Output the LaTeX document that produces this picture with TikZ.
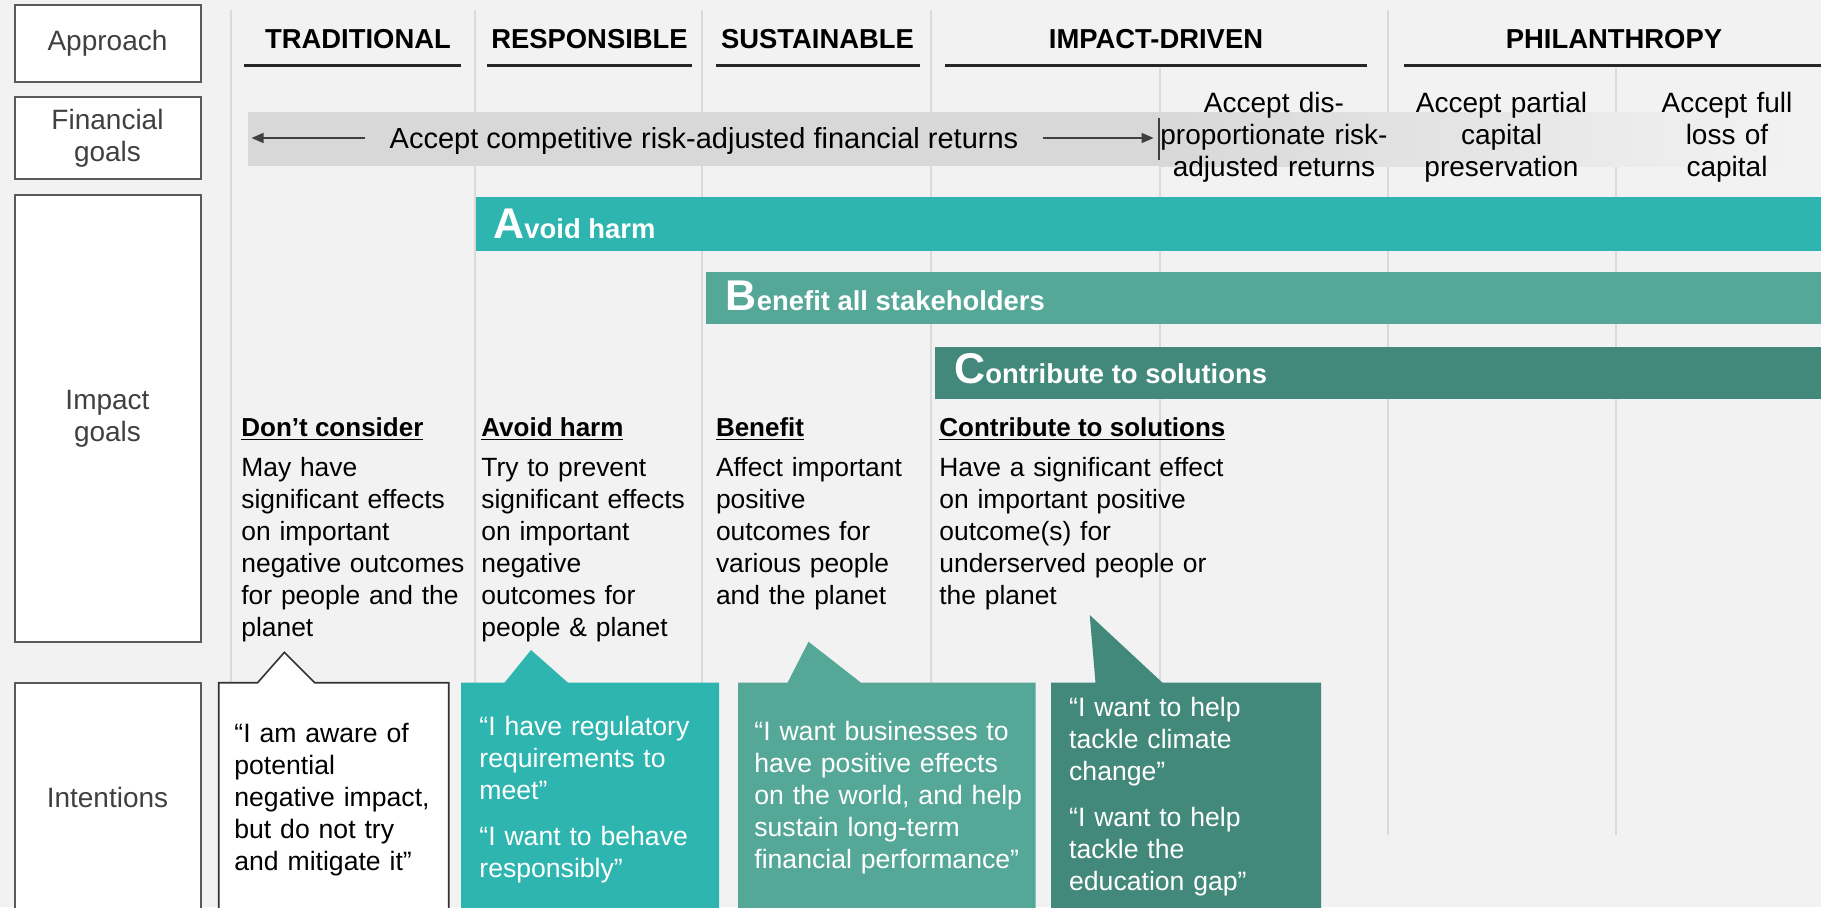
\documentclass[tikz,border=0pt]{standalone}
\usepackage{fontspec}
\setmainfont{Liberation Sans}
\usetikzlibrary{arrows.meta, positioning}

\definecolor{pagebg}{HTML}{F2F2F2}
\definecolor{rulegray}{HTML}{DADADA}
\definecolor{bargray}{HTML}{D8D8D8}
\definecolor{framegray}{HTML}{5A5A5A}
\definecolor{labelgray}{HTML}{404040}
\definecolor{harmteal}{HTML}{2EB5B0}
\definecolor{benefitgreen}{HTML}{55A898}
\definecolor{solutiongreen}{HTML}{43897B}

\newcommand{\barinitial}[1]{{\fontsize{21.5}{21.5}\selectfont #1}}

\begin{document}
\begin{tikzpicture}[x=0.5pt, y=-0.5pt,
    rowlabel/.style={draw=framegray, line width=1pt, fill=white, text=labelgray,
      minimum width=93pt, align=center, inner sep=0pt,
      font=\fontsize{14}{16}\selectfont},
    colhead/.style={anchor=base, inner sep=0pt, font=\fontsize{13.7}{16}\selectfont\bfseries},
    headrule/.style={draw=black!85, line width=1.5pt},
    divider/.style={draw=rulegray, line width=1pt},
    fincol/.style={anchor=base, inner sep=0pt, text width=125pt, align=center,
      font=\fontsize{14}{16}\selectfont},
    finarrow/.style={draw=labelgray, line width=0.75pt, -{Triangle[length=6pt,width=5pt]}},
    bartext/.style={anchor=base west, inner sep=0pt, text=white,
      font=\fontsize{13.7}{16}\selectfont\bfseries},
    goalhead/.style={anchor=base west, inner sep=0pt, font=\fontsize{13}{16}\selectfont\bfseries},
    goalbody/.style={anchor=base west, inner sep=0pt, text width=170pt, align=left,
      font=\fontsize{13.2}{16}\selectfont},
    quote/.style={anchor=base west, inner sep=0pt, text width=150pt, align=left,
      text=white, font=\fontsize{13.3}{16}\selectfont},
  ]
\useasboundingbox (0,0) rectangle (1821,907);
\clip (0,0) rectangle (1821,907);
\fill[pagebg] (0,0) rectangle (1821,907);

% column rules
\foreach \x in {231,474.5,702,930.5,1388}
  \draw[divider] (\x,10) -- (\x,835);
\foreach \x in {1159.5,1615.5}
  \draw[divider] (\x,68) -- (\x,835);

% row labels
\node[rowlabel, minimum height=38.5pt] (approach) at (107.5,43.5) {Approach};
\node[rowlabel, minimum height=41pt] (fingoals) at (107.5,138) {Financial\\goals};
\node[rowlabel, minimum height=223.5pt] (impgoals) at (107.5,418.5) {Impact\\goals};
\node[rowlabel, minimum height=114pt] (intentions) at (107.5,797) {Intentions};

% approaches
\node[colhead] (traditional) at (358,48) {TRADITIONAL};
\node[colhead] (responsible) at (589.5,48) {RESPONSIBLE};
\node[colhead] (sustainable) at (817.5,48) {SUSTAINABLE};
\node[colhead] (impactdriven) at (1156,48) {IMPACT-DRIVEN};
\node[colhead] (philanthropy) at (1614,48) {PHILANTHROPY};
\draw[headrule] (244,65) -- (461,65);
\draw[headrule] (487,65) -- (692,65);
\draw[headrule] (715.5,65) -- (919.5,65);
\draw[headrule] (945,65) -- (1367,65);
\draw[headrule] (1404,65) -- (1821,65);

% financial goals
\fill[bargray] (248,112) rectangle (1159,166);
\shade[left color=bargray, right color=pagebg] (1159,112) rectangle (1795,166);
\node[anchor=base, inner ysep=0pt, inner xsep=12pt, font=\fontsize{14.5}{16}\selectfont]
  (finret) at (704,148) {Accept competitive risk-adjusted financial returns};
\coordinate (leftend) at (251.5,138);
\coordinate (rightend) at (1153.6,138);
\draw[finarrow] (finret.west |- leftend) -- (leftend);
\draw[finarrow] (finret.east |- rightend) -- (rightend);
\draw[labelgray, line width=1pt] (1159,118) -- (1159,160);
\node[fincol] (disprop) at (1274,112.5) {Accept dis-\\proportionate risk-\\adjusted returns};
\node[fincol] (partial) at (1501.5,112.5) {Accept partial\\capital\\preservation};
\node[fincol] (fullloss) at (1727,112.5) {Accept full\\loss of\\capital};

% impact goal bars
\fill[harmteal] (476,197) rectangle (1821,251);
\fill[benefitgreen] (706,272) rectangle (1821,324);
\fill[solutiongreen] (935,347) rectangle (1821,399);
\node[bartext] (avoidbar) at (493,238) {\barinitial{A}void harm};
\node[bartext] (benefitbar) at (725.5,310) {\barinitial{B}enefit all stakeholders};
\node[bartext] (solutionbar) at (954,383) {\barinitial{C}ontribute to solutions};

% impact goal columns
\node[goalhead] (dontconsider) at (241,436.7) {\underline{Don’t consider}};
\node[goalbody] (dontbody) at ([yshift=-20pt]dontconsider.base west)
  {May have\\significant effects\\on important\\negative outcomes\\for people and the\\planet};
\node[goalhead] (avoidharm) at (481,436.7) {\underline{Avoid harm}};
\node[goalbody] (avoidbody) at ([yshift=-20pt]avoidharm.base west)
  {Try to prevent\\significant effects\\on important\\negative\\outcomes for\\people \& planet};
\node[goalhead] (benefit) at (715.6,436.7) {\underline{Benefit}};
\node[goalbody] (benefitbody) at ([yshift=-20pt]benefit.base west)
  {Affect important\\positive\\outcomes for\\various people\\and the planet};
\node[goalhead] (contribute) at (939,436.7) {\underline{Contribute to solutions}};
\node[goalbody] (contributebody) at ([yshift=-20pt]contribute.base west)
  {Have a significant effect\\on important positive\\outcome(s) for\\underserved people or\\the planet};

% intention bubbles
\filldraw[fill=white, draw=black!80, line width=0.8pt]
  (218.75,915) -- (218.75,682.7) -- (257.6,682.7) -- (284.4,652.3)
  -- (314.7,682.7) -- (448.7,682.7) -- (448.7,915) -- cycle;
\fill[harmteal]
  (461,915) -- (461,682.7) -- (504.5,682.7) -- (531,650)
  -- (568,682.7) -- (719,682.7) -- (719,915) -- cycle;
\fill[benefitgreen]
  (738,915) -- (738,682.7) -- (787.5,682.7) -- (808.5,641.7)
  -- (861,682.7) -- (1035.7,682.7) -- (1035.7,915) -- cycle;
\fill[solutiongreen]
  (1051,915) -- (1051,682.7) -- (1095.5,682.7) -- (1089.7,615)
  -- (1162.5,682.7) -- (1321,682.7) -- (1321,915) -- cycle;

\node[quote, text=black] (awarequote) at (234,742.7)
  {“I am aware of\\potential\\negative impact,\\but do not try\\and mitigate it”};
\node[quote] (regquote) at (479,735)
  {“I have regulatory\\requirements to\\meet”\\[7pt]“I want to behave\\responsibly”};
\node[quote] (bizquote) at (754,740.7)
  {“I want businesses to\\have positive effects\\on the world, and help\\sustain long-term\\financial performance”};
\node[quote] (climatequote) at (1068.75,716.7)
  {“I want to help\\tackle climate\\change”\\[7pt]“I want to help\\tackle the\\education gap”};
\end{tikzpicture}
\end{document}
